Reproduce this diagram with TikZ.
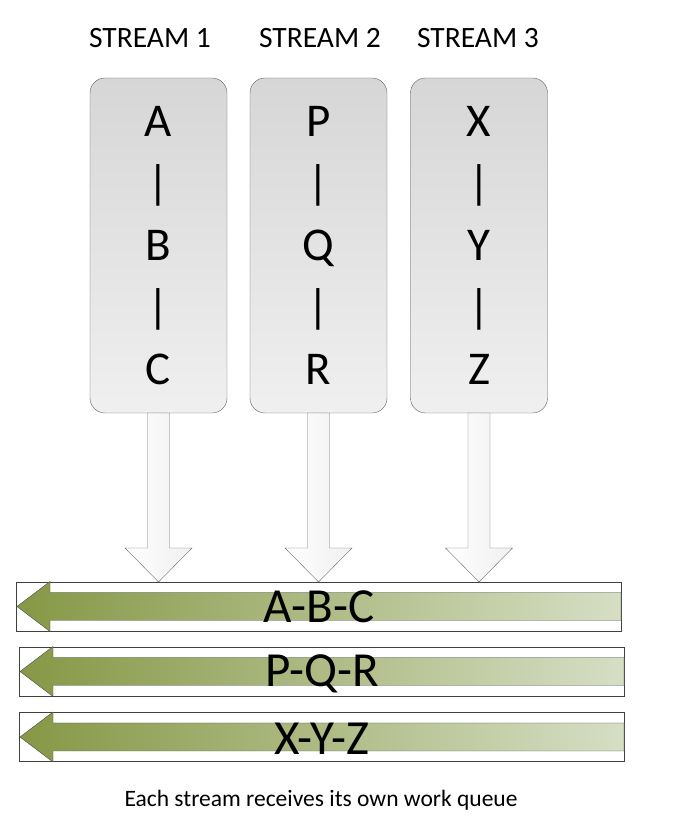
\documentclass[tikz,border=0pt]{standalone}
\usepackage{fontspec}
\setmainfont{Carlito}
\usetikzlibrary{calc}
\definecolor{olivegreen}{RGB}{134,152,70}
\definecolor{palegreen}{RGB}{214,222,196}
\begin{document}
\begin{tikzpicture}[x=1pt,y=1pt,inner sep=0pt,outer sep=0pt,
streambox/.style={draw=gray!75!black,rounded corners=15pt,top color=gray!32,bottom color=gray!12,minimum width=137pt,minimum height=335pt,align=center,font=\fontsize{47}{62}\selectfont},
title/.style={font=\fontsize{29.5}{32}\selectfont},
queuebox/.style={draw=black!75,minimum width=605pt,minimum height=49pt},
feedarrow/.style={draw=gray!85!black,left color=white,right color=gray!12},
queuearrow/.style={draw=gray!60!black,left color=olivegreen,right color=palegreen},
queuelabel/.style={font=\fontsize{49}{52}\selectfont}]
\useasboundingbox (0,0) rectangle (674,829);
\draw (158.5,583.5) node[streambox] (S1) {A\\|\\B\\|\\C};
\draw (318.5,583.5) node[streambox] (S2) {P\\|\\Q\\|\\R};
\draw (479,583.5) node[streambox] (S3) {X\\|\\Y\\|\\Z};
\draw (150,791) node[title] (T1) {STREAM 1};
\draw (320,791) node[title] (T2) {STREAM 2};
\draw (478,791) node[title] (T3) {STREAM 3};

\draw (318.5,222.5) node[queuebox] (Q1) {};
\draw (321.5,157.5) node[queuebox] (Q2) {};
\draw (321.5,92) node[queuebox] (Q3) {};

% green queue arrows
\foreach \i in {1,2,3}
  \draw[queuearrow] ($(Q\i.east)+(0,14)$) -- ($(Q\i.west)+(34,14)$) -- ($(Q\i.west)+(34,25)$)
    -- ($(Q\i.west)+(1,0)$) -- ($(Q\i.west)+(34,-25)$) -- ($(Q\i.west)+(34,-14)$)
    -- ($(Q\i.east)+(0,-14)$) -- cycle;

% block arrows from streams to the queues
\foreach \i in {1,2,3}
  \draw[feedarrow] ($(S\i.south)+(-11,0)$) -- ($(S\i.south |- Q1.north)+(-11,34)$) -- ++(-22.5,0)
    -- (S\i.south |- Q1.north) -- ($(S\i.south |- Q1.north)+(33.5,34)$) -- ++(-22.5,0)
    -- ($(S\i.south)+(11,0)$) -- cycle;

\draw (319,222) node[queuelabel] (L1) {A-B-C};
\draw (322,155) node[queuelabel] (L2) {P-Q-R};
\draw (322,90) node[queuelabel] (L3) {X-Y-Z};
\draw (321,29) node[font=\fontsize{23.5}{26}\selectfont] (cap) {Each stream receives its own work queue};
\end{tikzpicture}
\end{document}
